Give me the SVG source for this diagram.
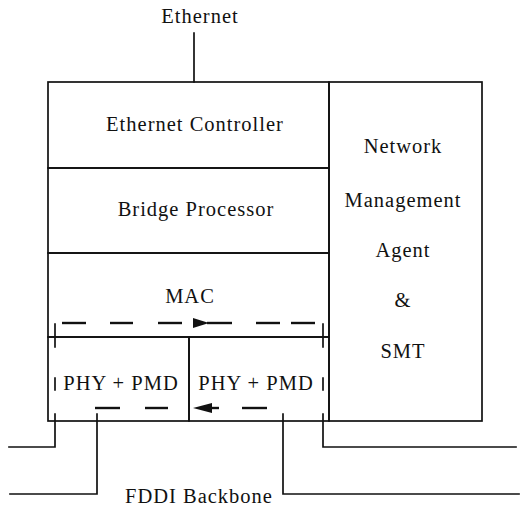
<svg xmlns="http://www.w3.org/2000/svg" width="520" height="509" viewBox="0 0 520 509">
<style>
.ln{stroke:#111;stroke-width:1.7;fill:none;stroke-linecap:square}
.d{stroke:#111;stroke-width:2.4;fill:none}
.t{font-family:"Liberation Serif","Times New Roman",serif;font-size:20.5px;letter-spacing:1px;fill:#111;text-anchor:middle}
</style>
<rect width="520" height="509" fill="#fff"/>
<g id="ethernet-label"><text class="t" x="200" y="23">Ethernet</text></g>
<g id="ethernet-controller">
<rect class="ln" x="48" y="82" width="281" height="86"/>
<text class="t" x="195" y="131">Ethernet Controller</text>
</g>
<g id="bridge-processor">
<rect class="ln" x="48" y="168" width="281" height="85"/>
<text class="t" x="196" y="216">Bridge Processor</text>
</g>
<g id="mac">
<rect class="ln" x="48" y="253" width="281" height="84"/>
<text class="t" x="190" y="303">MAC</text>
</g>
<g id="phy-pmd-left">
<rect class="ln" x="48" y="337" width="141" height="84"/>
<text class="t" x="121" y="390">PHY + PMD</text>
<line class="ln" x1="55" y1="378" x2="55" y2="390"/>
</g>
<g id="phy-pmd-right">
<rect class="ln" x="189" y="337" width="140" height="84"/>
<text class="t" x="256" y="390">PHY + PMD</text>
<line class="ln" x1="323" y1="378" x2="323" y2="390"/>
</g>
<g id="nma-smt">
<rect class="ln" x="329" y="82" width="153" height="339"/>
<text class="t" x="403" y="153">Network</text>
<text class="t" x="403" y="207">Management</text>
<text class="t" x="403" y="257">Agent</text>
<text class="t" x="403" y="307">&amp;</text>
<text class="t" x="403" y="358">SMT</text>
</g>
<g id="fddi-label"><text class="t" x="199" y="503">FDDI Backbone</text></g>
<g id="connectors">
<line class="ln" x1="194" y1="33" x2="194" y2="82"/>
<g id="token-path-top">
<line class="ln" x1="55" y1="324" x2="55" y2="347"/>
<line class="ln" x1="323" y1="324" x2="323" y2="347"/>
<line class="d" x1="62" y1="323" x2="86" y2="323"/>
<line class="d" x1="110" y1="323" x2="133" y2="323"/>
<line class="d" x1="158" y1="323" x2="182" y2="323"/>
<polygon points="193,318 209,323 193,328" fill="#111"/>
<line class="d" x1="207" y1="323" x2="232" y2="323"/>
<line class="d" x1="256" y1="323" x2="280" y2="323"/>
<line class="d" x1="291" y1="323" x2="315" y2="323"/>
</g>
<g id="token-path-bottom">
<line class="d" x1="95" y1="408" x2="120" y2="408"/>
<line class="d" x1="145" y1="408" x2="168" y2="408"/>
<polygon points="193,408 212,403 212,413" fill="#111"/>
<line class="d" x1="211" y1="408" x2="219" y2="408"/>
<line class="d" x1="242" y1="408" x2="267" y2="408"/>
</g>
<polyline class="ln" points="55,414 55,447 9,447"/>
<polyline class="ln" points="97,414 97,494 10,494"/>
<polyline class="ln" points="283,414 283,494 519,494"/>
<polyline class="ln" points="323,414 323,447 516,447"/>
</g>
</svg>
